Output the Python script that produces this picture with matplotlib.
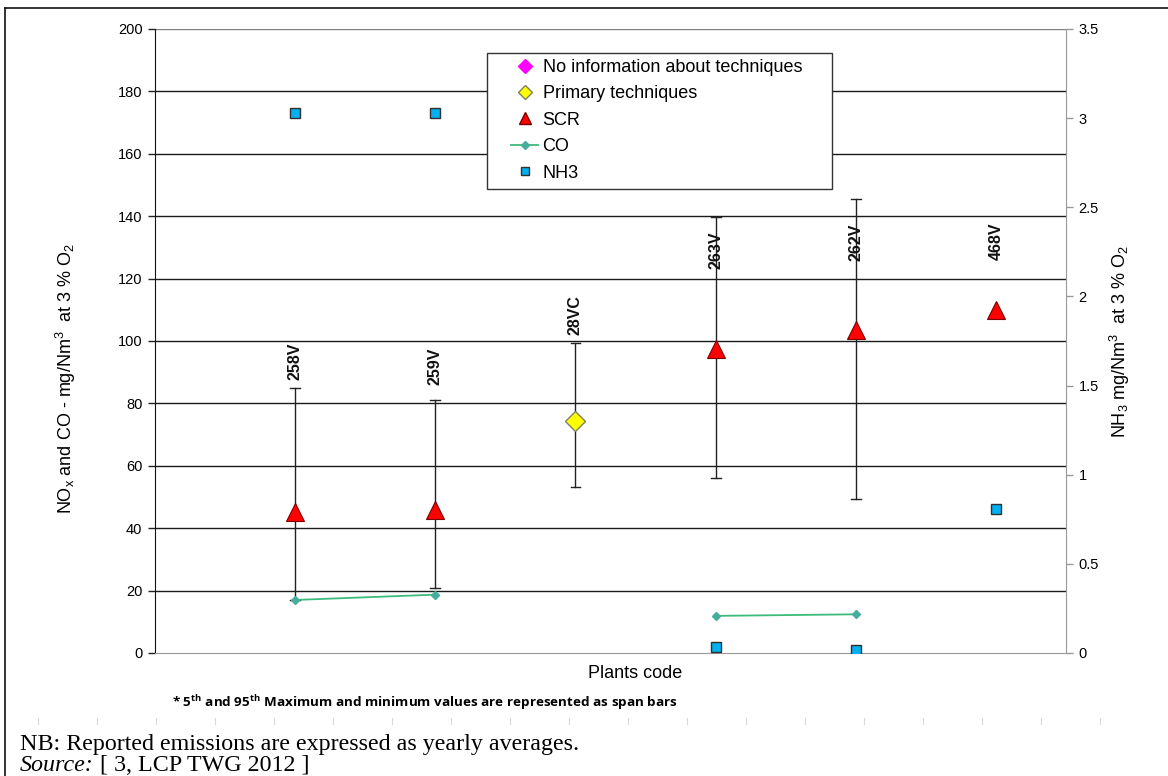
import numpy as np
import matplotlib
matplotlib.use("Agg")
import matplotlib.pyplot as plt
from matplotlib.lines import Line2D
from matplotlib.patches import Rectangle

plt.rcParams['font.family'] = ['Liberation Sans', 'DejaVu Sans']
plt.rcParams['mathtext.default'] = 'regular'

plants = ["258V", "259V", "28VC", "263V", "262V", "468V"]
nox_scr = [45.2, 45.8, np.nan, 97.4, 103.5, 110.0]
nox_primary = [np.nan, np.nan, 74.4, np.nan, np.nan, np.nan]
nox_low = [17.0, 20.8, 53.2, 56.0, 49.4, np.nan]
nox_high = [84.9, 81.0, 99.2, 139.7, 145.5, np.nan]
co_values = [17.0, 18.7, np.nan, 11.9, 12.4, np.nan]
nh3_values = [3.03, 3.03, np.nan, 0.034, 0.017, 0.81]
label_y = [87.5, 86.0, 102.0, 123.0, 125.5, 126.0]

left_ticks = [0, 20, 40, 60, 80, 100, 120, 140, 160, 180, 200]
right_ticks = [0, 0.5, 1, 1.5, 2, 2.5, 3, 3.5]

W, H = 1168, 776
fig = plt.figure(figsize=(W / 100, H / 100), dpi=100)
AX_L, AX_R, AX_T, AX_B = 155, 1066, 29, 653
ax = fig.add_axes([AX_L / W, 1 - AX_B / H, (AX_R - AX_L) / W, (AX_B - AX_T) / H])
ax2 = ax.twinx()

def axx(px):
    return (px - AX_L) / (AX_R - AX_L)

def axy(py):
    return (AX_B - py) / (AX_B - AX_T)

x = np.arange(1, len(plants) + 1)
ax.set_xlim(0.0, 6.5)
ax.set_ylim(0, 200)
ax2.set_ylim(0, 3.5)

# gridlines
for t in left_ticks[1:-1]:
    ax.axhline(t, color='#1a1a1a', lw=1.0, zorder=0)
ax.axhline(200, color='#808080', lw=1.0, zorder=0)

# span bars
lo = np.array(nox_low)
hi = np.array(nox_high)
for xi, l, h in zip(x, lo, hi):
    if np.isnan(l):
        continue
    ax.plot([xi, xi], [l, h], color='#222222', lw=1.0, zorder=2)
    for v in (l, h):
        ax.plot([xi - 0.035, xi + 0.035], [v, v], color='#222222', lw=1.0, zorder=2)

# CO line
ax.plot(x, co_values, color='#3dbb7a', lw=1.3, marker='D', ms=4.5,
        mfc='#45ad9e', mec='#45ad9e', zorder=3)

# NOx markers
ax.plot(x, nox_primary, ls='none', marker='D', ms=10, mfc='#ffff00', mec='#808060',
        mew=1.0, zorder=4)
ax.plot(x, nox_scr, ls='none', marker='^', ms=13, mfc='#ff0000', mec='#7a0000',
        mew=0.8, zorder=4)

# NH3 on right axis
ax2.plot(x, nh3_values, ls='none', marker='s', ms=7, mfc='#00b0f0', mec='#303030',
         mew=1.0, zorder=4)

# plant labels
for xi, name, ly in zip(x, plants, label_y):
    ax.text(xi, ly, name, rotation=90, ha='center', va='bottom', fontsize=11.5,
            fontweight='bold', color='#111111', zorder=5)

# axes styling
ax.set_xticks([])
ax.set_yticks(left_ticks)
ax.set_yticklabels([str(t) for t in left_ticks], fontsize=10.5)
ax.tick_params(axis='y', direction='out', length=5, width=1, color='#222222', pad=4)
ax2.set_yticks(right_ticks)
ax2.set_yticklabels(['{:g}'.format(t) for t in right_ticks], fontsize=10.5)
ax2.tick_params(axis='y', direction='out', length=5, width=1, color='#999999', pad=4)
ax.spines['left'].set_color('#111111')
ax.spines['bottom'].set_color('#999999')
ax.spines['top'].set_visible(False)
ax.spines['right'].set_visible(False)
ax2.spines['top'].set_visible(False)
ax2.spines['left'].set_visible(False)
ax2.spines['bottom'].set_visible(False)
ax2.spines['right'].set_color('#999999')

ax.set_ylabel('NO$_x$ and CO - mg/Nm$^3$  at 3 % O$_2$', fontsize=13)
ax.yaxis.set_label_coords(axx(78), axy(378))
ax2.set_ylabel('NH$_3$ mg/Nm$^3$  at 3 % O$_2$', fontsize=13)
ax2.yaxis.set_label_coords(axx(1108), axy(342))
fig.text(635 / W, 1 - 674 / H, 'Plants code', ha='center', va='center', fontsize=13)

# legend (frame drawn separately)
handles = [
    Line2D([], [], ls='none', marker='D', ms=7, mfc='#ff00ff', mec='#ff00ff'),
    Line2D([], [], ls='none', marker='D', ms=7, mfc='#ffff00', mec='#808060'),
    Line2D([], [], ls='none', marker='^', ms=9, mfc='#ff0000', mec='#7a0000'),
    Line2D([], [], color='#3dbb7a', lw=1.3, marker='D', ms=4.5, mfc='#45ad9e', mec='#45ad9e'),
    Line2D([], [], ls='none', marker='s', ms=6, mfc='#00b0f0', mec='#303030'),
]
labels = ['No information about techniques', 'Primary techniques', 'SCR', 'CO', 'NH3']
leg = ax.legend(handles, labels, loc='upper left',
                bbox_to_anchor=(axx(511), axy(59)),
                fontsize=13, frameon=False, borderpad=0.0, labelspacing=0.52,
                handlelength=1.5, handletextpad=0.25, borderaxespad=0)
leg.set_zorder(10)
frame = Rectangle((axx(487), axy(189)), axx(832) - axx(487), axy(53) - axy(189),
                  transform=ax.transAxes, facecolor='white', edgecolor='#333333',
                  lw=1.0, zorder=9)
ax.add_patch(frame)

# footnotes
fig.text(172 / W, 1 - 703 / H,
         '* 5$^{th}$ and 95$^{th}$ Maximum and minimum values are represented as span bars',
         fontsize=9.7, fontweight='bold', family=['Open Sans', 'DejaVu Sans'], va='center')
fig.text(20 / W, 1 - 750 / H, 'NB: Reported emissions are expressed as yearly averages.',
         fontsize=17.3, family=['Liberation Serif'], va='baseline')
src = fig.text(20 / W, 1 - 771 / H, 'Source:', fontsize=17.3, family=['Liberation Serif'],
               style='italic', va='baseline')
fig.canvas.draw()
bb = src.get_window_extent()
fig.text((bb.x1 + 6) / W, 1 - 771 / H, '[ 3, LCP TWG 2012 ]', fontsize=17.3,
         family=['Liberation Serif'], va='baseline')

# decorative page elements: outer frame and faint marks
fig.add_artist(Line2D([5 / W, 5 / W], [0, 1 - 8 / H], transform=fig.transFigure,
                      color='#111111', lw=1.2))
fig.add_artist(Line2D([5 / W, 1], [1 - 8 / H, 1 - 8 / H], transform=fig.transFigure,
                      color='#111111', lw=1.2))
for k in range(19):
    xm = (38 + 59 * k) / W
    fig.add_artist(Line2D([xm, xm], [1 - 718 / H, 1 - 724 / H], transform=fig.transFigure,
                          color='#d8d8d8', lw=0.8))

fig.savefig('out.png', dpi=100)
